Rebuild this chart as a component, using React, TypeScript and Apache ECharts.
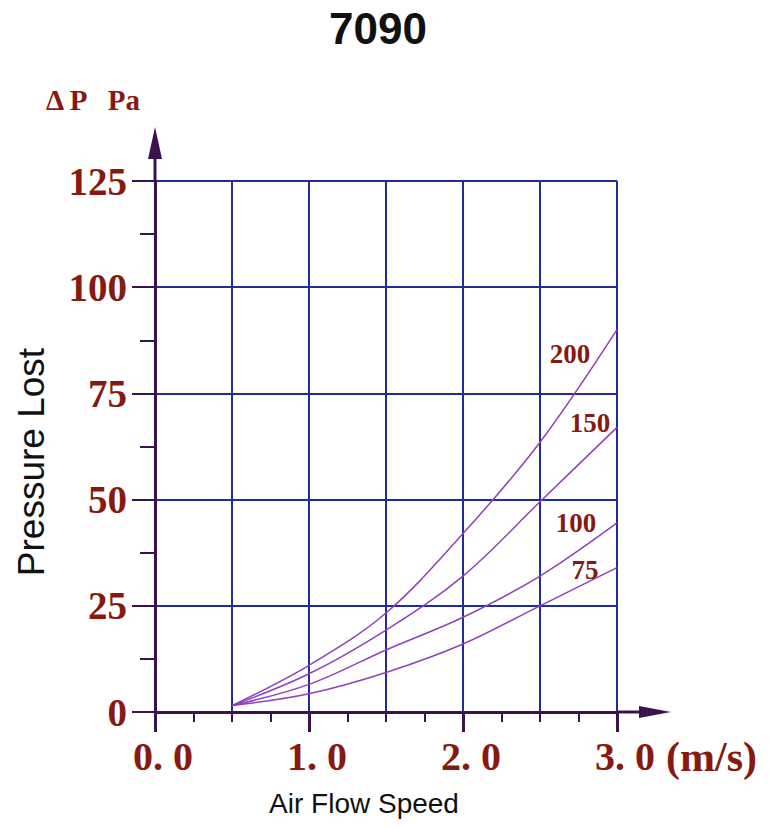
import React, { useEffect, useRef } from 'react';
import * as echarts from 'echarts';

const speeds = [0.5, 1.0, 1.5, 2.0, 2.5, 3.0];
const flowRates = ['200', '150', '100', '75'];
const loss200 = [1.5, 11, 23.3, 42, 63.5, 90];
const loss150 = [1.5, 9, 19.3, 32, 49.5, 67];
const loss100 = [1.5, 6.5, 14.6, 22.3, 32, 44.5];
const loss75 = [1.5, 4.3, 9.3, 16, 25, 34];
const xTickLabels = ['0. 0', '1. 0', '2. 0', '3. 0'];
const yTickLabels = ['0', '25', '50', '75', '100', '125'];
const titleText = '7090';
const xUnit = '(m/s)';
const yUnit = 'Δ P   Pa';
const xName = 'Air Flow Speed';
const yName = 'Pressure Lost';

export default function App() {
  const ref = useRef<HTMLDivElement>(null);
  useEffect(() => {
    document.body.style.margin = '0';
    const el = ref.current!;
    const chart = echarts.init(el, null, { renderer: 'svg' });
    const serif = '"Liberation Serif", "Times New Roman", serif';
    const sans = '"Liberation Sans", Arial, sans-serif';
    const labelColor = '#861a10';
    const axisColor = '#3b1250';
    const gridColor = '#222c98';
    const curveColor = '#8f42bd';
    const seriesData = [loss200, loss150, loss100, loss75];
    const labelOffsets = [[-47, 24], [-27, -4], [-41, 0], [-32, 2]];
    const lastX = speeds[speeds.length - 1];

    chart.setOption({
      animation: false,
      grid: { left: 155, right: 162, top: 181, bottom: 117, containLabel: false },
      xAxis: [
        {
          type: 'value', min: 0, max: 3, interval: 0.5, position: 'bottom',
          axisLine: { show: true, lineStyle: { color: axisColor, width: 3 } },
          axisTick: { show: true, length: 10, lineStyle: { color: axisColor, width: 2 } },
          minorTick: { show: true, splitNumber: 2, length: 10, lineStyle: { color: axisColor, width: 2 } },
          splitLine: { show: true, lineStyle: { color: gridColor, width: 2 } },
          axisLabel: { show: false },
        },
        {
          type: 'value', min: 0, max: 3, interval: 1, position: 'bottom',
          axisLine: { show: false },
          axisTick: { show: true, length: 20, lineStyle: { color: axisColor, width: 3 } },
          splitLine: { show: false },
          axisLabel: {
            show: true, margin: 24, padding: [0, 0, 0, 16],
            color: labelColor, fontFamily: serif, fontWeight: 'bold', fontSize: 40,
            formatter: (v: number) => xTickLabels[Math.round(v)] ?? '',
          },
        },
      ],
      yAxis: {
        type: 'value', min: 0, max: 125, interval: 25,
        axisLine: { show: true, lineStyle: { color: axisColor, width: 3 } },
        axisTick: { show: true, length: 23, lineStyle: { color: axisColor, width: 2 } },
        minorTick: { show: true, splitNumber: 2, length: 15, lineStyle: { color: axisColor, width: 2 } },
        splitLine: { show: true, lineStyle: { color: gridColor, width: 2 } },
        axisLabel: {
          margin: 28, color: labelColor, fontFamily: serif, fontWeight: 'bold', fontSize: 39,
          formatter: (v: number) => yTickLabels[Math.round(v / 25)] ?? '',
        },
      },
      series: [
        ...seriesData.map((d, i) => ({
          type: 'line', name: flowRates[i],
          data: speeds.map((x, j) => [x, d[j]]),
          smooth: 0.35, showSymbol: false,
          lineStyle: { color: curveColor, width: 1.5 }, z: 3,
        })),
        {
          type: 'scatter', clip: false, symbolSize: 1,
          itemStyle: { color: 'rgba(0,0,0,0)', opacity: 1 },
          label: { color: labelColor, opacity: 1, textBorderWidth: 0, fontFamily: serif, fontWeight: 'bold', fontSize: 27 },
          data: seriesData.map((d, i) => ({
            value: [lastX, d[d.length - 1]],
            label: { show: true, position: 'inside', offset: labelOffsets[i], formatter: flowRates[i] },
          })),
          z: 5,
        },
      ],
    });

    const finder = { xAxisIndex: 0, yAxisIndex: 0 };
    const top = chart.convertToPixel(finder, [0, 125]) as number[];
    const end = chart.convertToPixel(finder, [3, 0]) as number[];
    const ox = top[0], oy = top[1];
    const ex = end[0], ey = end[1];
    chart.setOption({
      graphic: [
        { type: 'line', shape: { x1: ox, y1: oy, x2: ox, y2: oy - 38 }, style: { stroke: axisColor, lineWidth: 3 } },
        { type: 'polygon', shape: { points: [[ox, oy - 54], [ox - 7, oy - 22], [ox + 7, oy - 22]] }, style: { fill: axisColor } },
        { type: 'line', shape: { x1: ex, y1: ey, x2: ex + 32, y2: ey }, style: { stroke: axisColor, lineWidth: 3 } },
        { type: 'polygon', shape: { points: [[ex + 54, ey], [ex + 22, ey - 6], [ex + 22, ey + 6]] }, style: { fill: axisColor } },
        {
          type: 'text', x: ex + 49, y: ey + 45,
          style: { text: xUnit, fill: labelColor, font: `bold 42px ${serif}`, align: 'left', verticalAlign: 'middle' },
        },
        {
          type: 'text', x: 46, y: 100,
          style: { text: yUnit, fill: labelColor, font: `bold 29px ${serif}`, align: 'left', verticalAlign: 'middle' },
        },
        {
          type: 'text', x: 378, y: 28,
          style: { text: titleText, fill: '#111', font: `bold 44px ${sans}`, align: 'center', verticalAlign: 'middle' },
        },
        {
          type: 'text', x: 364, y: 803,
          style: { text: xName, fill: '#111', font: `28px ${sans}`, align: 'center', verticalAlign: 'middle' },
        },
        {
          type: 'text', x: 31, y: 462, rotation: Math.PI / 2,
          style: { text: yName, fill: '#111', font: `37px ${sans}`, align: 'center', verticalAlign: 'middle' },
        },
      ],
    });

    return () => chart.dispose();
  }, []);
  return <div ref={ref} style={{ width: 779, height: 829 }} />;
}
